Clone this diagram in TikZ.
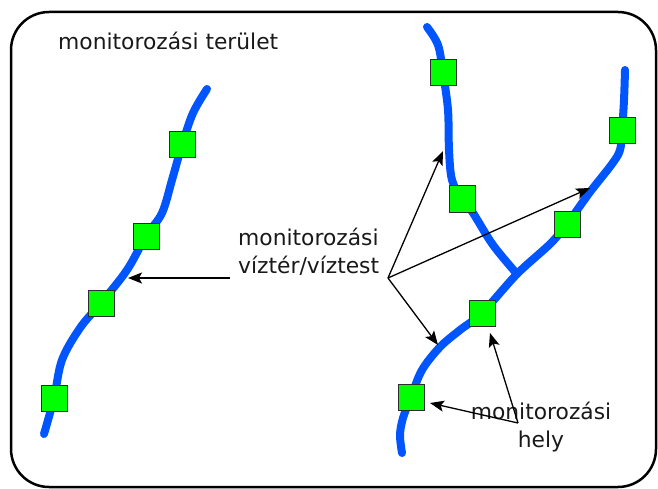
\documentclass[tikz,border=0pt]{standalone}
\usepackage{fontspec}
\setmainfont{DejaVu Sans}
\usetikzlibrary{arrows.meta}
\definecolor{riverblue}{RGB}{0,85,255}
\definecolor{sitegreen}{RGB}{0,255,0}
\definecolor{edgegray}{RGB}{45,45,45}
\newcommand\lblsize{\fontsize{21.8pt}{28pt}\selectfont}
\begin{document}
\begin{tikzpicture}[x=1pt,y=-1pt,
  river/.style={draw=riverblue, line width=8pt, line cap=round, line join=round},
  site/.style={draw=edgegray, fill=sitegreen, line width=1pt, minimum size=26pt, inner sep=0pt, outer sep=0pt},
  lbl/.style={font=\lblsize, inner sep=0pt, text=black!90},
  pointer/.style={draw=black, line width=1.3pt, -{Stealth[length=14pt,width=11pt,inset=3pt]}},
  frame/.style={draw=black, line width=2.5pt, rounded corners=38pt}]
\useasboundingbox (0,0) rectangle (658,489);
\clip (0,0) rectangle (658,489);
% frame
\draw[frame] (11,12) rectangle (656,487);
\node[lbl, anchor=base west, align=left] (area) at (58,50) {monitorozási terület};
% left river
\draw[river] plot[smooth, tension=0.55] coordinates {(207,89) (193,113) (182,145) (172,180) (162,213) (146,236) (127,270) (101,303) (80,328) (62,360) (54,398) (44,434)};
% right system: branch A
\draw[river] plot[smooth, tension=0.55] coordinates {(427,27) (438,45) (443,73) (448,110) (449,150) (452,180) (462,199) (473,213) (493,245) (517,274)};
% main river B
\draw[river] plot[smooth, tension=0.55] coordinates {(625,70) (624,100) (622,131) (620,150) (612,164) (590,192) (567,224) (550,244) (517,274) (482,313) (460,330) (440,347) (422,370) (411,397) (403,418) (400,435) (402,453)};
% monitoring sites
\node[site] (s1) at (182,145) {};
\node[site] (s2) at (146,236) {};
\node[site] (s3) at (101,303) {};
\node[site] (s4) at (54,398) {};
\node[site] (s5) at (443,73) {};
\node[site] (s6) at (462,199) {};
\node[site] (s7) at (622,131) {};
\node[site] (s8) at (567,224) {};
\node[site] (s9) at (482,313) {};
\node[site] (s10) at (411,397) {};
% labels
\node[lbl, anchor=base west, align=left] (vt) at (238,273) {monitorozási\\víztér/víztest};
\node[lbl, anchor=base, align=center] (hely) at (541,447) {monitorozási\\hely};
% targets
\coordinate (vj) at (388,278);
\coordinate (tL) at (128,278);
\coordinate (tA) at (443,151);
\coordinate (tB) at (590,188);
\coordinate (tC) at (438,345);
\coordinate (hj) at (518,423);
\coordinate (tS10) at (430,403);
\coordinate (tS9) at (490,333);
\draw[pointer] (230,278) -- (tL);
\draw[pointer] (vj) -- (tA);
\draw[pointer] (vj) -- (tB);
\draw[pointer] (vj) -- (tC);
\draw[pointer] (hj) -- (tS10);
\draw[pointer] (hj) -- (tS9);
\end{tikzpicture}
\end{document}
